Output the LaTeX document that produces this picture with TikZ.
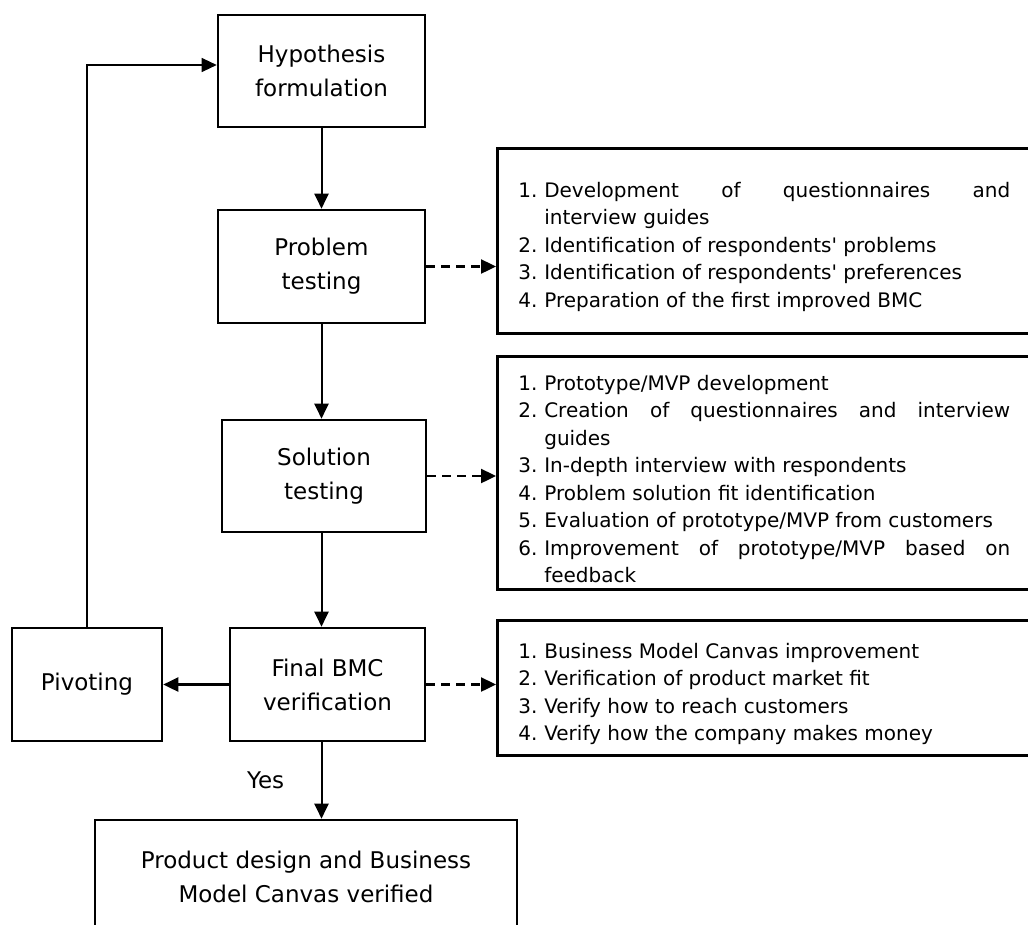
\documentclass[tikz,border=0pt]{standalone}
\usepackage{fontspec}
\setmainfont{DejaVu Sans}
\usetikzlibrary{arrows.meta}

\newcommand{\stepitem}[2]{\par\noindent\hangindent=26pt\hangafter=1\makebox[26pt][l]{#1.}#2\par}

\tikzset{
  stage/.style={draw, line width=2.6pt, align=center, inner sep=0pt,
    font=\fontsize{23}{34}\selectfont},
  tasks/.style={draw, line width=2.6pt, anchor=north west, text width=492pt,
    align=justify, inner xsep=21pt, inner ysep=0pt,
    font=\fontsize{20}{27.5}\selectfont},
  flow/.style={line width=2pt, -{Triangle[length=15pt,width=14pt]}},
  hint/.style={flow, line width=2.4pt, dash pattern=on 9pt off 6pt},
}

\begin{document}
\begin{tikzpicture}[x=1pt, y=-1pt]
  \useasboundingbox (0,0) rectangle (1028,924);

  % stages of the process
  \node[stage, minimum width=207, minimum height=112] (hyp) at (321.5,71) {Hypothesis\\formulation};
  \node[stage, minimum width=207, minimum height=113] (prob) at (321.5,266.5) {Problem\\testing};
  \node[stage, minimum width=204, minimum height=112] (sol) at (324,476) {Solution\\testing};
  \node[stage, minimum width=195, minimum height=113] (final) at (327.5,684.5) {Final BMC\\verification};
  \node[stage, minimum width=150, minimum height=113] (pivot) at (87,684.5) {Pivoting};
  \node[stage, minimum width=422, minimum height=113] (result) at (306,876.5) {Product design and Business\\Model Canvas verified};

  % activities of each stage
  \node[tasks, minimum height=185] (tasks1) at (496,147) {%
    \stepitem{1}{Development of questionnaires and\linebreak interview guides}
    \stepitem{2}{Identification of respondents\textquotesingle{} problems}
    \stepitem{3}{Identification of respondents\textquotesingle{} preferences}
    \stepitem{4}{Preparation of the first improved BMC}};
  \node[tasks, minimum height=233] (tasks2) at (496,355) {%
    \stepitem{1}{Prototype/MVP development}
    \stepitem{2}{Creation of questionnaires and interview\linebreak guides}
    \stepitem{3}{In-depth interview with respondents}
    \stepitem{4}{Problem solution fit identification}
    \stepitem{5}{Evaluation of prototype/MVP from customers}
    \stepitem{6}{Improvement of prototype/MVP based on\linebreak feedback}};
  \node[tasks, minimum height=135] (tasks3) at (496,619) {%
    \stepitem{1}{Business Model Canvas improvement}
    \stepitem{2}{Verification of product market fit}
    \stepitem{3}{Verify how to reach customers}
    \stepitem{4}{Verify how the company makes money}};

  % main flow
  \draw[flow] (hyp.south) -- (prob.north);
  \draw[flow] (prob.south) -- (prob.south |- sol.north);
  \draw[flow] (sol.south -| prob.south) -- (prob.south |- final.north);
  \draw[flow] (final.south -| prob.south) -- node[left=33pt, font=\fontsize{23}{34}\selectfont] {Yes} (prob.south |- result.north);
  \draw[flow, line width=2.6pt] (final.west) -- (pivot.east);

  % back to the hypothesis
  \coordinate (hypin) at ([yshift=6pt]hyp.west);
  \draw[line width=1.2pt, -{Triangle[length=15pt,width=14pt]}] (pivot.north) |- (hypin);

  % links to the activities
  \draw[hint] (prob.east) -- (prob.east -| tasks1.west);
  \draw[hint] (sol.east) -- (sol.east -| tasks2.west);
  \draw[hint] (final.east) -- (final.east -| tasks3.west);
\end{tikzpicture}
\end{document}
